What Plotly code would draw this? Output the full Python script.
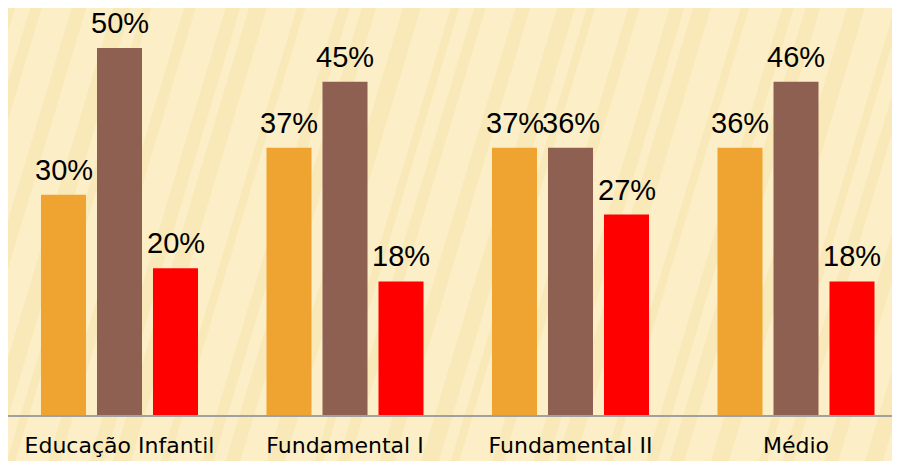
import plotly.graph_objects as go

categories = ["Educação Infantil", "Fundamental I", "Fundamental II", "Médio"]
series_names = ["Série 1", "Série 2", "Série 3"]
# bar heights (percent)
s1_values = [30.0, 36.4, 36.4, 36.4]
s2_values = [50.0, 45.4, 36.4, 45.4]
s3_values = [20.0, 18.2, 27.3, 18.2]
# printed labels
s1_labels = ["30%", "37%", "37%", "36%"]
s2_labels = ["50%", "45%", "36%", "46%"]
s3_labels = ["20%", "18%", "27%", "18%"]

colors = ["#EFA331", "#8E6052", "#FF0000"]
BARGAP = 0.255
GROUPGAP = 0.196

fig = go.Figure()
annotations = []
all_vals = [s1_values, s2_values, s3_values]
all_labs = [s1_labels, s2_labels, s3_labels]
for j, (name, vals, labs, col) in enumerate(zip(series_names, all_vals, all_labs, colors)):
    fig.add_trace(go.Bar(
        x=list(range(len(categories))), y=vals, name=name,
        marker=dict(color=col, line=dict(width=0)),
    ))
    slot = (1 - BARGAP) / len(series_names)
    for i, (v, t) in enumerate(zip(vals, labs)):
        annotations.append(dict(
            x=i + (j - 1) * slot, y=v, xref="x", yref="y", text=t, showarrow=False,
            yanchor="bottom", xanchor="center", yshift=8, borderpad=0,
            font=dict(family="Liberation Sans, Arial", size=29, color="#000000"),
        ))

# page is offset by the 8px body margin
W, H = 892, 453
B = 407
PW, PH = W, B
CAT = 225.5
shapes = []
for k in range(-10, 40):
    x0 = k * 37 + (k % 3) * 6
    w = 8 + (k % 4) * 3
    shapes.append(dict(
        type="line", xref="paper", yref="paper", layer="below",
        x0=x0 / PW, y0=(B - (H + 10)) / PH,
        x1=(x0 + 0.30 * (H + 20)) / PW, y1=(B + 10) / PH,
        line=dict(color="#F1D995", width=w), opacity=0.26,
    ))

xmin = -111.5 / CAT
fig.update_layout(
    width=W, height=H,
    margin=dict(l=0, r=0, t=0, b=H - B),
    paper_bgcolor="#FCEFC7", plot_bgcolor="rgba(0,0,0,0)",
    barmode="group", bargap=BARGAP, bargroupgap=GROUPGAP,
    showlegend=False,
    shapes=shapes,
    annotations=annotations,
    xaxis=dict(range=[xmin, xmin + PW / CAT], showline=True, linecolor="#A0A0A0",
               linewidth=2, ticks="", showgrid=False, ticklabelstandoff=10,
               tickmode="array", tickvals=list(range(len(categories))), ticktext=categories,
               tickfont=dict(family="DejaVu Sans", size=22, color="#000000")),
    yaxis=dict(range=[0, B / 7.34], visible=False, showgrid=False),
)
fig.write_html("out.html")
